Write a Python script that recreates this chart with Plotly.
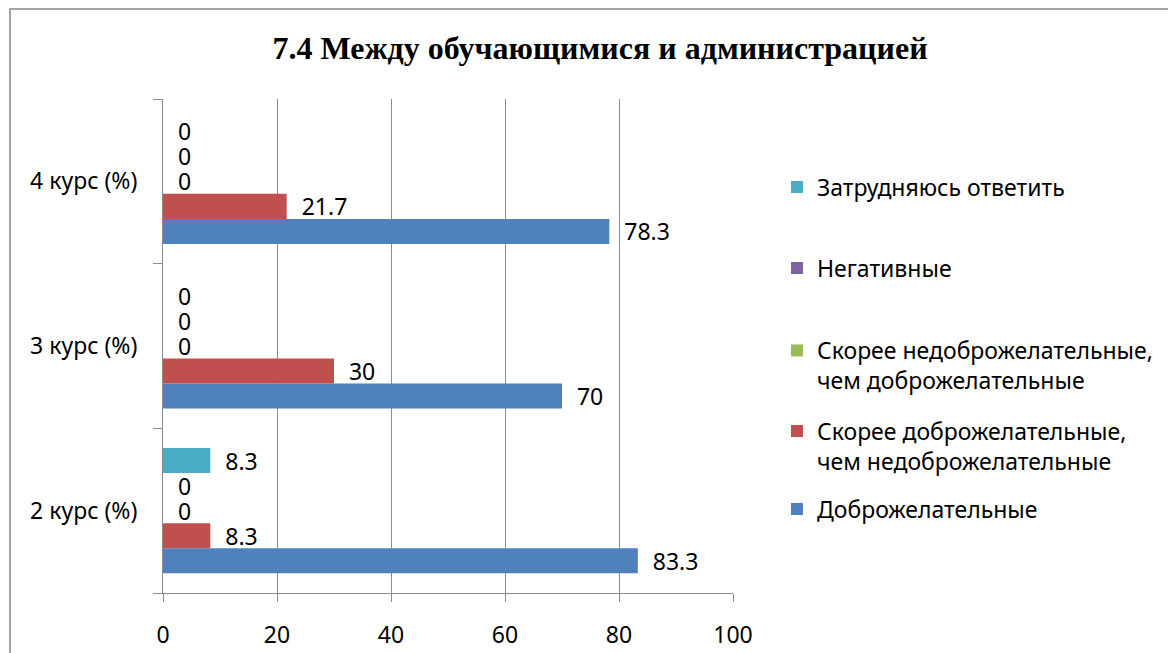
import plotly.graph_objects as go

categories = ["2 курс (%)", "3 курс (%)", "4 курс (%)"]
series_names = [
    "Доброжелательные",
    "Скорее доброжелательные,<br>чем недоброжелательные",
    "Скорее недоброжелательные,<br>чем доброжелательные",
    "Негативные",
    "Затрудняюсь ответить",
]
dobro = [83.3, 70, 78.3]
skoree_dobro = [8.3, 30, 21.7]
skoree_nedobro = [0, 0, 0]
negativ = [0, 0, 0]
zatrudn = [8.3, 0, 0]
series_values = [dobro, skoree_dobro, skoree_nedobro, negativ, zatrudn]
colors = ["#4F81BD", "#C0504D", "#9BBB59", "#8064A2", "#4BACC6"]

OFF = 8  # default page body margin
W, H = 1176 - OFF, 653 - OFF
# plot area in page pixels
L, R, T, B = 163, 733, 99, 593
FONT = "Noto Sans"
FS = 23

def px_x(p):
    return (p - L) / (R - L)

def px_y(p):
    return (B - p) / (B - T)

legend_y_px = [509, 446, 365.5, 268, 187]
legend_ids = ["legend", "legend2", "legend3", "legend4", "legend5"]

fig = go.Figure()
for name, vals, col, lid in zip(series_names, series_values, colors, legend_ids):
    fig.add_trace(go.Bar(
        y=categories, x=vals, name=name, orientation="h",
        marker=dict(color=col, line=dict(width=0)),
        text=[("\u00a0\u00a0" + (f"{v:g}")) for v in vals],
        textposition="outside", constraintext="none", cliponaxis=False,
        textfont=dict(family=FONT, size=FS, color="#000000"),
        legend=lid, hoverinfo="skip",
    ))

layout_legends = {}
for lid, ypx in zip(legend_ids, legend_y_px):
    layout_legends[lid] = dict(
        x=px_x(777), xanchor="left", y=px_y(ypx), yanchor="middle",
        font=dict(family=FONT, size=FS, color="#000000"),
        bgcolor="rgba(0,0,0,0)", borderwidth=0, valign="top",
        itemclick=False, itemdoubleclick=False,
    )

fig.update_layout(
    width=W, height=H,
    margin=dict(l=L - OFF, r=W - (R - OFF), t=T - OFF, b=H - (B - OFF), autoexpand=False),
    paper_bgcolor="white", plot_bgcolor="white",
    barmode="group", bargap=0.24, bargroupgap=0,
    showlegend=True,
    title=dict(
        text="<b>7.4 Между обучающимися и администрацией</b>",
        font=dict(family="Liberation Serif", size=32, color="#000000"),
        x=px_x(600), xref="paper", xanchor="center",
        y=1 - (48 - OFF) / H, yref="container", yanchor="middle",
    ),
    xaxis=dict(
        range=[0, 100], dtick=20, tick0=0,
        showgrid=True, gridcolor="#8C8C8C", gridwidth=1,
        showline=True, linecolor="#8C8C8C", linewidth=1,
        ticks="outside", ticklen=8, tickcolor="#8C8C8C",
        zeroline=False, ticklabelstandoff=13,
        tickfont=dict(family=FONT, size=FS, color="#000000"),
        fixedrange=True,
    ),
    yaxis=dict(
        type="category", categoryorder="array", categoryarray=categories,
        showgrid=False, showline=True, linecolor="#8C8C8C", linewidth=1,
        ticks="outside", ticklen=9, tickcolor="#8C8C8C", tickson="boundaries",
        ticklabelstandoff=20,
        tickfont=dict(family=FONT, size=FS, color="#000000"),
        fixedrange=True,
    ),
    shapes=[dict(
        type="rect", xref="paper", yref="paper",
        x0=px_x(10), x1=px_x(1190), y0=px_y(670), y1=px_y(9),
        line=dict(color="#878787", width=1.5), fillcolor="rgba(0,0,0,0)",
        layer="below",
    )],
    **layout_legends,
)

fig.write_html("out.html")
